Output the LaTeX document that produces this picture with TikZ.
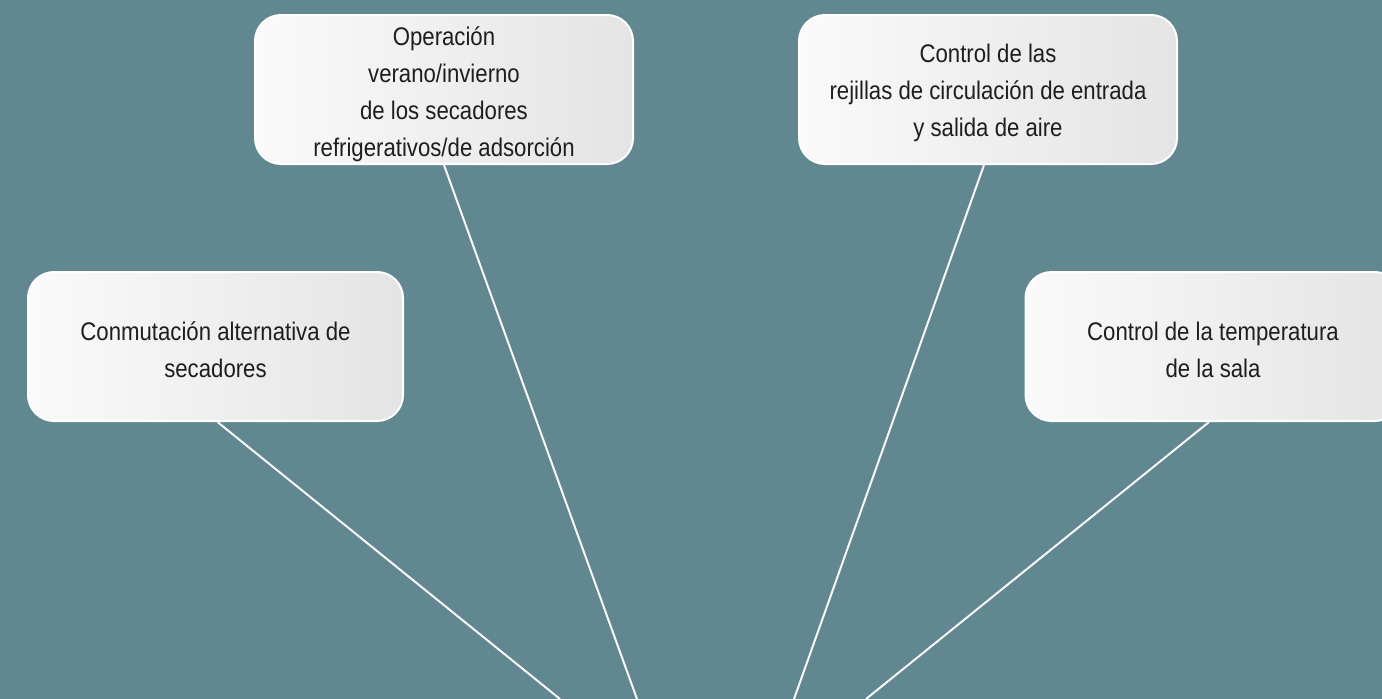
\documentclass[tikz,border=0pt]{standalone}
\usepackage{fontspec}
\newfontfamily\boxfont{Liberation Sans}[FakeStretch=0.87]
\definecolor{bgteal}{HTML}{618790}
\definecolor{boxL}{HTML}{FAFAFA}
\definecolor{boxR}{HTML}{E4E4E4}
\definecolor{txt}{HTML}{1E1E1E}
\begin{document}
\begin{tikzpicture}[x=1pt,y=-1pt,
  bubble/.style={draw=white,line width=2pt,rounded corners=26pt,
    left color=boxL,right color=boxR,minimum width=378pt,minimum height=149pt,
    inner sep=0pt},
  boxtext/.style={align=center,text=txt,inner sep=0pt,
    font=\boxfont\fontsize{25.5}{37}\selectfont},
  link/.style={draw=white!95!gray,line width=2pt}]
\useasboundingbox (0,0) rectangle (1382,699);
\fill[bgteal] (0,0) rectangle (1382,699);
\node[bubble] (op) at (444,89.5) {};
\node[boxtext] (opt) at ([yshift=-5pt]op.center) {Operación\\verano/invierno\\de los secadores\\refrigerativos/de adsorción};
\node[bubble] (rej) at (988,89.5) {};
\node[boxtext] (rejt) at ([yshift=-3pt]rej.center) {Control de las\\rejillas de circulación de entrada\\y salida de aire};
\node[bubble,minimum width=375pt] (con) at (215.5,346.5) {};
\node[boxtext] (cont) at ([yshift=-3pt]con.center) {Conmutación alternativa de\\secadores};
\node[bubble,minimum width=375pt] (tem) at (1213,346.5) {};
\node[boxtext] (temt) at ([yshift=-3pt]tem.center) {Control de la temperatura\\de la sala};
\coordinate (e1) at (560,699);
\coordinate (e2) at (637,699);
\coordinate (e3) at (794,699);
\coordinate (e4) at (866,699);
\draw[link] ([xshift=2pt]con.south) -- (e1);
\draw[link] (op.south) -- (e2);
\draw[link] ([xshift=-4pt]rej.south) -- (e3);
\draw[link] ([xshift=-4pt]tem.south) -- (e4);
\end{tikzpicture}
\end{document}
